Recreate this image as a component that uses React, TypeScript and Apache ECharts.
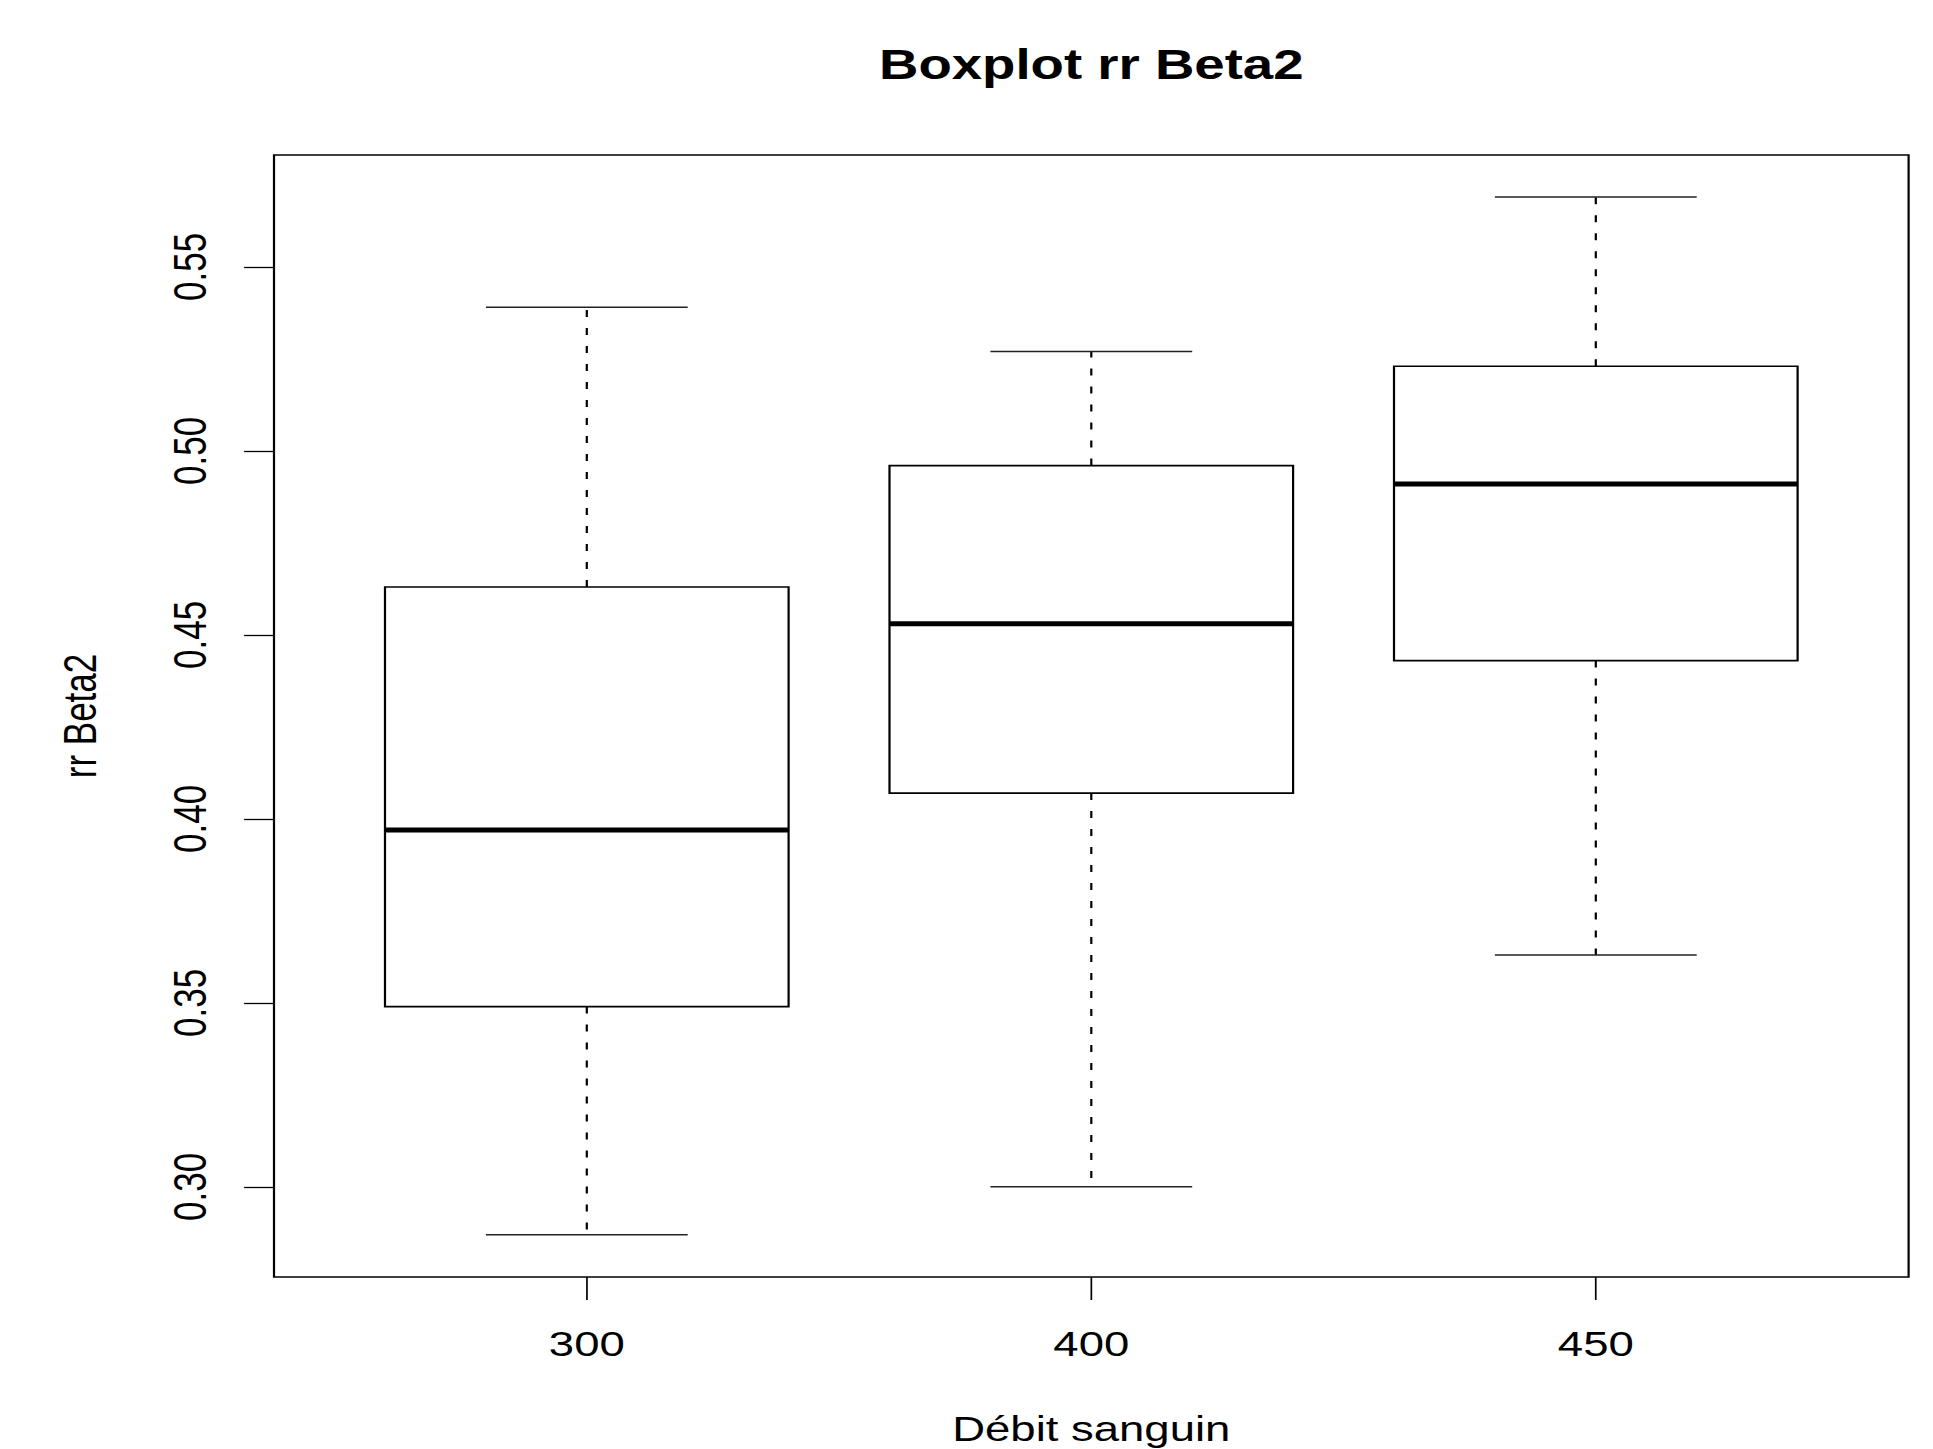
import React, { useEffect, useRef } from "react";
import * as echarts from "echarts";

// ---- data ----
const categories = ["300", "400", "450"];
const lowWhisker = [0.287, 0.300, 0.363];
const q1Values = [0.349, 0.407, 0.443];
const medianValues = [0.397, 0.453, 0.491];
const q3Values = [0.463, 0.496, 0.523];
const highWhisker = [0.539, 0.527, 0.569];
const yTicks = [0.30, 0.35, 0.40, 0.45, 0.50, 0.55];
const xTicks = [1, 2, 3];

const TITLE = "Boxplot rr Beta2";
const X_NAME = "Débit sanguin";
const Y_NAME = "rr Beta2";

// ---- layout ----
const SX = 1.3; // the reference is stretched horizontally
const FULL_W = 1933;
const H = 1449;
const W = FULL_W / SX;
const FONT = "Liberation Sans";

export default function App() {
  const ref = useRef<HTMLDivElement>(null);

  useEffect(() => {
    if (!ref.current) return;
    const chart = echarts.init(ref.current, null, { renderer: "svg" });

    const data = categories.map((_, i) => [
      i + 1,
      lowWhisker[i],
      q1Values[i],
      medianValues[i],
      q3Values[i],
      highWhisker[i],
    ]);

    const gridLeft = 274 / SX;
    const gridRight = W - 1908.5 / SX;
    const plotCenterX = (gridLeft + (W - gridRight)) / 2;

    const option: any = {
      animation: false,
      backgroundColor: "#ffffff",
      textStyle: { fontFamily: FONT },
      graphic: [
        {
          type: "text",
          x: plotCenterX,
          y: 64.5,
          style: {
            text: TITLE,
            textAlign: "center",
            textVerticalAlign: "middle",
            fontFamily: FONT,
            fontWeight: "bold",
            fontSize: 42,
            fill: "#000",
          },
        },
      ],
      grid: {
        left: gridLeft,
        right: gridRight,
        top: 155,
        bottom: H - 1277,
        show: true,
        borderColor: "#000",
        borderWidth: 1.7,
        backgroundColor: "transparent",
        containLabel: false,
        outerBoundsMode: "none",
      },
      xAxis: {
        type: "value",
        min: 0.38,
        max: 3.62,
        name: X_NAME,
        nameLocation: "middle",
        nameGap: 134.5,
        nameTextStyle: {
          fontFamily: FONT,
          fontSize: 35,
          lineHeight: 35,
          color: "#000",
        },
        axisLine: { show: false },
        splitLine: { show: false },
        axisTick: {
          show: true,
          length: 23,
          customValues: xTicks,
          lineStyle: { color: "#000", width: 1.3 },
        },
        axisLabel: {
          show: true,
          customValues: xTicks,
          margin: 49,
          fontFamily: FONT,
          fontSize: 35,
          lineHeight: 35,
          color: "#000",
          formatter: (v: number) => categories[Math.round(v) - 1] ?? "",
        },
      },
      yAxis: {
        type: "value",
        min: 0.2755,
        max: 0.5804,
        name: Y_NAME,
        nameLocation: "middle",
        nameGap: 131.8,
        nameTextStyle: {
          fontFamily: FONT,
          fontSize: 35,
          lineHeight: 35,
          color: "#000",
        },
        axisLine: { show: false },
        splitLine: { show: false },
        axisTick: {
          show: true,
          length: 23,
          customValues: yTicks,
          lineStyle: { color: "#000", width: 1.3 },
        },
        axisLabel: {
          show: true,
          customValues: yTicks,
          rotate: 90,
          margin: 47,
          fontFamily: FONT,
          fontSize: 35,
          lineHeight: 35,
          color: "#000",
          formatter: (v: number) => v.toFixed(2),
        },
      },
      series: [
        {
          type: "custom",
          clip: false,
          encode: { x: 0, y: [1, 2, 3, 4, 5] },
          data,
          renderItem: (params: any, api: any) => {
            const x = api.value(0);
            const low = api.coord([x, api.value(1)]);
            const q1 = api.coord([x, api.value(2)]);
            const med = api.coord([x, api.value(3)]);
            const q3 = api.coord([x, api.value(4)]);
            const high = api.coord([x, api.value(5)]);
            const boxW = api.size([0.8, 0])[0];
            const capW = api.size([0.4, 0])[0];
            const cx = med[0];
            const lineW = 1.7;
            return {
              type: "group",
              children: [
                {
                  type: "line",
                  shape: { x1: cx, y1: q3[1], x2: cx, y2: high[1] },
                  style: { stroke: "#000", lineWidth: lineW, lineDash: [7, 11] },
                },
                {
                  type: "line",
                  shape: { x1: cx, y1: q1[1], x2: cx, y2: low[1] },
                  style: { stroke: "#000", lineWidth: lineW, lineDash: [7, 11] },
                },
                {
                  type: "line",
                  shape: { x1: cx - capW / 2, y1: high[1], x2: cx + capW / 2, y2: high[1] },
                  style: { stroke: "#222", lineWidth: 1.5 },
                },
                {
                  type: "line",
                  shape: { x1: cx - capW / 2, y1: low[1], x2: cx + capW / 2, y2: low[1] },
                  style: { stroke: "#222", lineWidth: 1.5 },
                },
                {
                  type: "rect",
                  shape: { x: cx - boxW / 2, y: q3[1], width: boxW, height: q1[1] - q3[1] },
                  style: { fill: "#fff", stroke: "#000", lineWidth: lineW },
                },
                {
                  type: "line",
                  shape: { x1: cx - boxW / 2, y1: med[1], x2: cx + boxW / 2, y2: med[1] },
                  style: { stroke: "#000", lineWidth: 5 },
                },
              ],
            };
          },
        },
      ],
    };

    chart.setOption(option);
    return () => chart.dispose();
  }, []);

  return (
    <div
      style={{
        position: "fixed",
        left: 0,
        top: 0,
        width: FULL_W,
        height: H,
        overflow: "hidden",
        background: "#fff",
      }}
    >
      <div
        ref={ref}
        style={{
          width: W,
          height: H,
          transform: `scaleX(${SX})`,
          transformOrigin: "0 0",
        }}
      />
    </div>
  );
}
